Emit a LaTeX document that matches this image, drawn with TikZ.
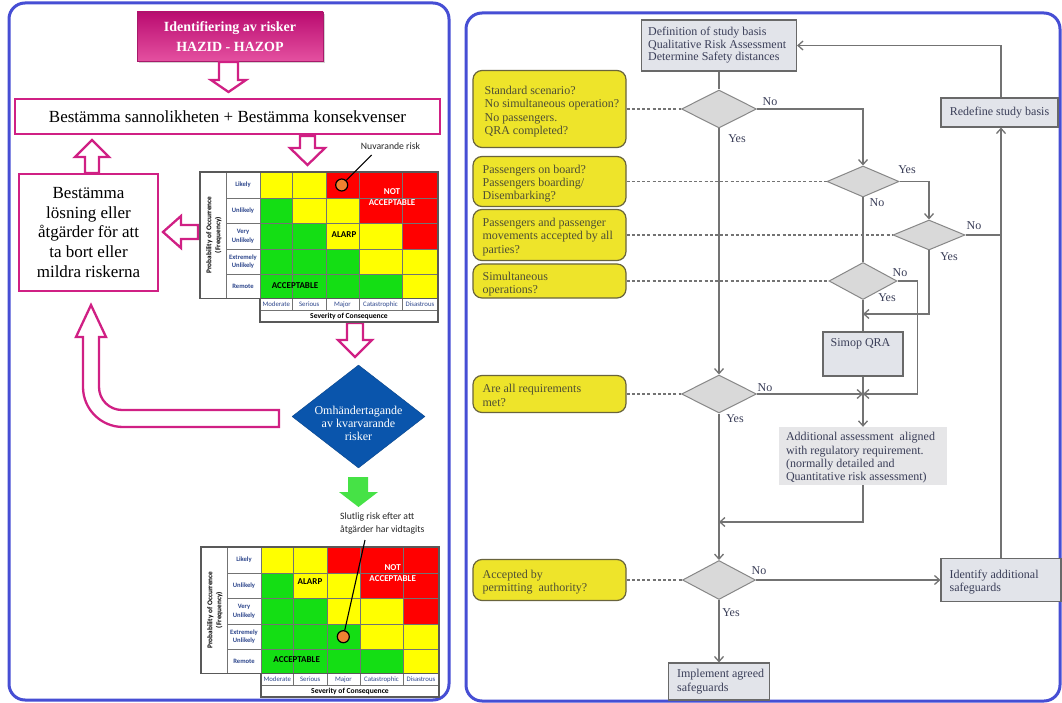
\documentclass[tikz,border=0pt]{standalone}
\usepackage{fontspec}
\setmainfont{Liberation Serif}
\newfontfamily\calfont{Carlito}
\usetikzlibrary{arrows.meta,shapes.geometric,shadows}

\definecolor{panelblue}{RGB}{70,78,212}
\definecolor{mag}{RGB}{208,32,132}
\definecolor{magtop}{RGB}{186,12,112}
\definecolor{magbot}{RGB}{228,80,160}
\definecolor{rred}{RGB}{255,0,0}
\definecolor{ryel}{RGB}{255,255,0}
\definecolor{rgrn}{RGB}{20,222,20}
\definecolor{dotorange}{RGB}{240,130,50}
\definecolor{lblblue}{RGB}{45,70,140}
\definecolor{arrowgreen}{RGB}{70,226,70}
\definecolor{omblue}{RGB}{10,85,172}
\definecolor{qyel}{RGB}{238,228,42}
\definecolor{qedge}{RGB}{105,100,60}
\definecolor{qtext}{RGB}{78,78,52}
\definecolor{boxfill}{RGB}{226,228,234}
\definecolor{fedge}{RGB}{105,105,105}
\definecolor{fline}{RGB}{115,115,115}
\definecolor{ftext}{RGB}{58,62,88}
\definecolor{addfill}{RGB}{230,230,232}

% risk matrix: origin at its top-left corner
\newcommand\riskgrid{%
  % coloured cells first, their borders afterwards so no edge is covered
  \foreach \ci/\xa/\xb in {1/60/92.5,2/92.5/126,3/126/159,4/159/202,5/202/238}{
    \foreach \rj/\ya/\yb in {1/0/26,2/26/51.5,3/51.5/77,4/77/102,5/102/126.5}{
      \pgfmathtruncatemacro\cdiff{\ci-\rj}
      \ifnum\cdiff>1 \def\cellcol{rred}\else\ifnum\cdiff<0 \def\cellcol{rgrn}\else\def\cellcol{ryel}\fi\fi
      \fill[\cellcol] (\xa,\ya) rectangle (\xb,\yb);
    }}
  \foreach \xx in {92.5,126,159,202}{\draw[cellline] (\xx,0) -- (\xx,126.5);}
  \foreach \yy in {26,51.5,77,102}{\draw[cellline] (26,\yy) -- (238,\yy);}
  \foreach \ya/\yb/\lbl in {0/26/Likely, 26/51.5/Unlikely, 51.5/77/{Very\\Unlikely}, 77/102/{Extremely\\Unlikely}, 102/126.5/Remote}{
    \node[rowname] at (43,{(\ya+\yb)/2}) {\lbl};
  }
  \draw[cellline] (26,0) -- (26,126.5);
  \draw[cellline] (60,0) -- (60,126.5);
  \foreach \xa/\xb/\lbl in {60/92.5/Moderate, 92.5/126/Serious, 126/159/Major, 159/202/Catastrophic, 202/238/Disastrous}{
    \draw[cellline, fill=white] (\xa,126.5) rectangle (\xb,138.5);
    \node[colname] at ({(\xa+\xb)/2},132.6) {\lbl};
  }
  \draw[cellline, fill=white] (60,138.5) rectangle (238,150);
  \node[sevname] at (149,144.3) {Severity of Consequence};
  \node[probname, rotate=90] at (14,63) {Probability of Occurrence\\(Frequency)};
  \draw[gridframe] (0,0) rectangle (238,126.5);
  \draw[gridframe] (60,126.5) rectangle (238,150);
}

\begin{document}
\begin{tikzpicture}[x=1pt,y=-1pt,
  panel/.style={draw=panelblue, line width=3pt, rounded corners=16pt},
  hollow/.style={draw=mag, line width=2.3pt, fill=white, line join=miter},
  magbox/.style={draw=mag, line width=2.6pt, fill=white, inner sep=0pt},
  titlebox/.style={minimum width=186pt, minimum height=49pt, top color=magtop, bottom color=magbot,
    draw=mag!80!black, line width=0.6pt, text=white, font=\bfseries\fontsize{14}{20}\selectfont,
    align=center, inner sep=0pt, drop shadow={shadow xshift=2pt, shadow yshift=-2pt, opacity=0.35}},
  cellline/.style={draw=black!55, line width=0.9pt},
  gridframe/.style={draw=black!65, line width=1.2pt},
  rowname/.style={font=\calfont\bfseries\fontsize{6.6}{8.5}\selectfont, text=lblblue, align=center, inner sep=0pt},
  colname/.style={font=\calfont\fontsize{6.8}{7}\selectfont, text=lblblue, inner sep=0pt},
  sevname/.style={font=\calfont\bfseries\fontsize{7.6}{8}\selectfont, inner sep=0pt},
  probname/.style={font=\calfont\bfseries\fontsize{7.3}{9}\selectfont, align=center, inner sep=0pt},
  zone/.style={font=\calfont\bfseries\fontsize{9}{11}\selectfont, align=center, inner sep=0pt},
  riskdot/.style={circle, draw=black, line width=1.2pt, fill=dotorange, minimum size=12pt, inner sep=0pt},
  note/.style={font=\calfont\fontsize{9.7}{12.5}\selectfont, text=black!85, inner sep=0pt, align=left},
  flow/.style={draw=fline, line width=1.3pt},
  arr/.style={-{Straight Barb[length=5pt,width=9pt]}},
  hint/.style={draw=fline, line width=1.1pt, dash pattern=on 3pt off 2.2pt},
  dia/.style={diamond, draw=fedge!80, fill=black!15, line width=1pt, inner sep=0pt},
  graybox/.style={draw=fedge, fill=boxfill, line width=1.1pt, inner sep=0pt},
  qbox/.style={draw=qedge, fill=qyel, line width=1.2pt, rounded corners=9pt, inner sep=0pt, minimum width=153pt},
  qtxt/.style={font=\fontsize{12}{13.3}\selectfont, text=qtext, align=left, inner sep=0pt, anchor=west},
  ftxt/.style={font=\fontsize{12}{13.3}\selectfont, text=ftext, align=left, inner sep=0pt},
  yn/.style={font=\fontsize{12}{13}\selectfont, text=ftext, inner sep=0pt},
]
\useasboundingbox (0,0) rectangle (1062,703);
\fill[white] (0,0) rectangle (1062,703);

% the two panels
\draw[panel] (9,3) rectangle (449,700);
\draw[panel] (466,13) rectangle (1060,701);

% ---------------- left panel: risk handling cycle ----------------
\node[titlebox] (title) at (230,36.5) {Identifiering av risker\\HAZID - HAZOP};
\node[magbox, minimum width=425pt, minimum height=35pt, font=\fontsize{17}{19}\selectfont]
  (assess) at (227.5,116.5) {Bestämma sannolikheten + Bestämma konsekvenser};
\node[magbox, minimum width=139pt, minimum height=117pt, font=\fontsize{17}{19.7}\selectfont, align=center]
  (mitig) at (88.5,232.5) {Bestämma\\lösning eller\\åtgärder för att\\ta bort eller\\mildra riskerna};

% block arrows
\draw[hollow] (219,62) -- (238,62) -- (238,80) -- (246,80) -- (228.5,92) -- (211,80) -- (219,80) -- cycle;
\draw[hollow] (300,136) -- (315,136) -- (315,148) -- (325,148) -- (307.5,165) -- (290,148) -- (300,148) -- cycle;
\draw[hollow] (85,173) -- (99,173) -- (99,157) -- (109,157) -- (92,140) -- (75,157) -- (85,157) -- cycle;
\draw[hollow] (198,225) -- (181,225) -- (181,216) -- (163,232) -- (181,248) -- (181,239) -- (198,239) -- cycle;
\draw[hollow] (347,323) -- (363,323) -- (363,340) -- (372,340) -- (355,357) -- (338,340) -- (347,340) -- cycle;
\draw[hollow] (279,410) -- (122,410) arc[start angle=90, end angle=180, radius=23] -- (99,337)
  -- (106,337) -- (91,305) -- (76,337) -- (83,337) -- (83,387)
  arc[start angle=180, end angle=90, radius=40] -- (279,427) -- cycle;
\fill[arrowgreen] (348,477) -- (368,477) -- (368,492) -- (378,492) -- (358.5,507) -- (339,492) -- (348,492) -- cycle;

% residual risk decision
\node[diamond, fill=omblue, draw=omblue!80!black, minimum width=133pt, minimum height=103pt, inner sep=0pt]
  (resid) at (358.5,416.5) {};
\node[font=\fontsize{12}{13}\selectfont, text=white, align=center, inner sep=0pt]
  (residtxt) at (358.5,423) {Omhändertagande\\av kvarvarande\\risker};

% current risk matrix
\begin{scope}[shift={(200,172)}]
  \riskgrid
  \node[zone, text=white] (na1) at (192,25.5) {NOT\\ACCEPTABLE};
  \node[zone] (al1) at (144,63) {ALARP};
  \node[zone] (ac1) at (95,114) {ACCEPTABLE};
  \node[riskdot] (dot1) at (141.7,13) {};
\end{scope}
\node[note] (nowlbl) at (390.5,146) {Nuvarande risk};
\coordinate (nowtip) at (371.7,155);
\draw[line width=1.1pt] (nowtip) -- (dot1);

% final risk matrix
\begin{scope}[shift={(201,547)}]
  \riskgrid
  \node[zone, text=white] (na2) at (191.7,26.2) {NOT\\ACCEPTABLE};
  \node[zone] (al2) at (109,35) {ALARP};
  \node[zone] (ac2) at (95.7,113) {ACCEPTABLE};
  \node[riskdot] (dot2) at (142.3,89.7) {};
\end{scope}
\node[note, anchor=north west] (finlbl) at (340,513) {Slutlig risk efter att\\åtgärder har vidtagits};
\coordinate (fintip) at (365,540);
\draw[line width=1.1pt] (fintip) -- (dot2);

% ---------------- right panel: study flowchart ----------------
\node[graybox, minimum width=155pt, minimum height=51pt] (top) at (719,45.5) {};
\node[ftxt, anchor=west, font=\fontsize{12}{12.5}\selectfont] (topt) at ([xshift=7pt]top.west)
  {Definition of study basis\\Qualitative Risk Assessment\\Determine Safety distances};

\node[dia, minimum width=75pt, minimum height=38pt] (d1) at (719,109) {};
\node[dia, minimum width=72pt, minimum height=31pt] (d2) at (863,181.5) {};
\node[dia, minimum width=72pt, minimum height=30pt] (d3) at (929,235) {};
\node[dia, minimum width=68pt, minimum height=37pt] (d4) at (863,281) {};
\node[dia, minimum width=75pt, minimum height=38pt] (d5) at (719,394) {};
\node[dia, minimum width=73pt, minimum height=39pt] (d6) at (719,580) {};

\node[graybox, minimum width=117pt, minimum height=29pt] (redef) at (999.5,112.5) {};
\node[ftxt] (redeft) at (redef) {Redefine study basis};
\node[graybox, minimum width=80pt, minimum height=44pt] (simop) at (863,354) {};
\node[ftxt, anchor=north west] (simopt) at ([xshift=8pt,yshift=-6.5pt]simop.north west) {Simop QRA};
\node[fill=addfill, minimum width=168pt, minimum height=58pt, inner sep=0pt] (addl) at (863,456) {};
\node[ftxt, anchor=west, font=\fontsize{12}{13.3}\selectfont] (addlt) at ([xshift=7pt,yshift=-2pt]addl.west)
  {Additional assessment\ \ aligned\\with regulatory requirement.\\(normally detailed and\\Quantitative risk assessment)};
\node[graybox, minimum width=120pt, minimum height=43pt] (identify) at (1001,580) {};
\node[ftxt, anchor=west] (identt) at ([xshift=9pt,yshift=-2pt]identify.west) {Identify additional\\safeguards};
\node[graybox, minimum width=101pt, minimum height=37pt] (implement) at (719,681.5) {};
\node[ftxt, anchor=west] (implt) at ([xshift=9pt]implement.west) {Implement agreed\\safeguards};

% question boxes
\node[qbox, minimum height=77pt] (qa) at (549.5,109) {};
\node[qtxt] (qat) at ([xshift=12pt,yshift=-2.5pt]qa.west)
  {Standard scenario?\\No simultaneous operation?\\No passengers.\\QRA completed?};
\node[qbox, minimum height=50pt] (qb) at (549.5,181.5) {};
\node[qtxt] (qbt) at ([xshift=10pt,yshift=-2pt]qb.west) {Passengers on board?\\Passengers boarding/\\Disembarking?};
\node[qbox, minimum height=51pt] (qc) at (549.5,235) {};
\node[qtxt] (qct) at ([xshift=10pt,yshift=-2pt]qc.west) {Passengers and passenger\\movements accepted by all\\parties?};
\node[qbox, minimum height=34pt] (qd) at (549.5,281) {};
\node[qtxt] (qdt) at ([xshift=10pt,yshift=-3pt]qd.west) {Simultaneous\\operations?};
\node[qbox, minimum height=37pt] (qe) at (549.5,394) {};
\node[qtxt] (qet) at ([xshift=10pt,yshift=-1.5pt]qe.west) {Are all requirements\\met?};
\node[qbox, minimum height=41pt] (qf) at (549.5,580) {};
\node[qtxt] (qft) at ([xshift=10pt,yshift=-2pt]qf.west) {Accepted by\\permitting\ \ authority?};

% dashed links from questions to their decisions
\draw[hint] (qa.east) -- (d1.west);
\draw[hint] (qb.east) -- (d2.west);
\draw[hint] (qc.east) -- (d3.west);
\draw[hint] (qd.east) -- (d4.west);
\draw[hint] (qe.east) -- (d5.west);
\draw[hint] (qf.east) -- (d6.west);

% flow connectors
\coordinate (j1) at (863,314);
\coordinate (j2) at (d5.east -| simop.south);
\coordinate (j3) at (719,522);
\draw[flow] (top.south) -- (d1.north);
\draw[flow,arr] (d1.east) -| (d2.north);
\draw[flow,arr] (d1.south) -- (d5.north);
\draw[flow,arr] (d2.east) -| (d3.north);
\draw[flow] (d2.south) -- (d4.north);
\draw[flow] (d3.east) -- (d3.east -| identify.north);
\draw[flow,arr] (identify.north) -- (identify.north |- redef.south);
\draw[flow,arr] (identify.north |- redef.north) |- (top.east);
\draw[flow,arr] (d3.south) |- (j1);
\draw[flow] (d4.south) -- (simop.north);
\draw[flow,arr] (d4.east) -- ++(20,0) |- (j2);
\draw[flow] (simop.south) -- (j2);
\draw[flow,arr] (d5.east) -- (j2);
\draw[flow,arr] (j2) -- (addl.north);
\draw[flow,arr] (addl.south) |- (j3);
\draw[flow,arr] (d5.south) -- (d6.north);
\draw[flow,arr] (d6.east) -- (identify.west);
\draw[flow,arr] (d6.south) -- (implement.north);

% decision labels
\node[yn] (n1) at (770,102) {No};
\node[yn] (y1) at (737,139) {Yes};
\node[yn] (y2) at (907,170) {Yes};
\node[yn] (n2) at (877,203) {No};
\node[yn] (n3) at (974,226) {No};
\node[yn] (y3) at (949,257) {Yes};
\node[yn] (n4) at (900,273) {No};
\node[yn] (y4) at (887,298) {Yes};
\node[yn] (n5) at (765,388) {No};
\node[yn] (y5) at (735,419) {Yes};
\node[yn] (n6) at (759,571) {No};
\node[yn] (y6) at (731,613) {Yes};
\end{tikzpicture}
\end{document}
